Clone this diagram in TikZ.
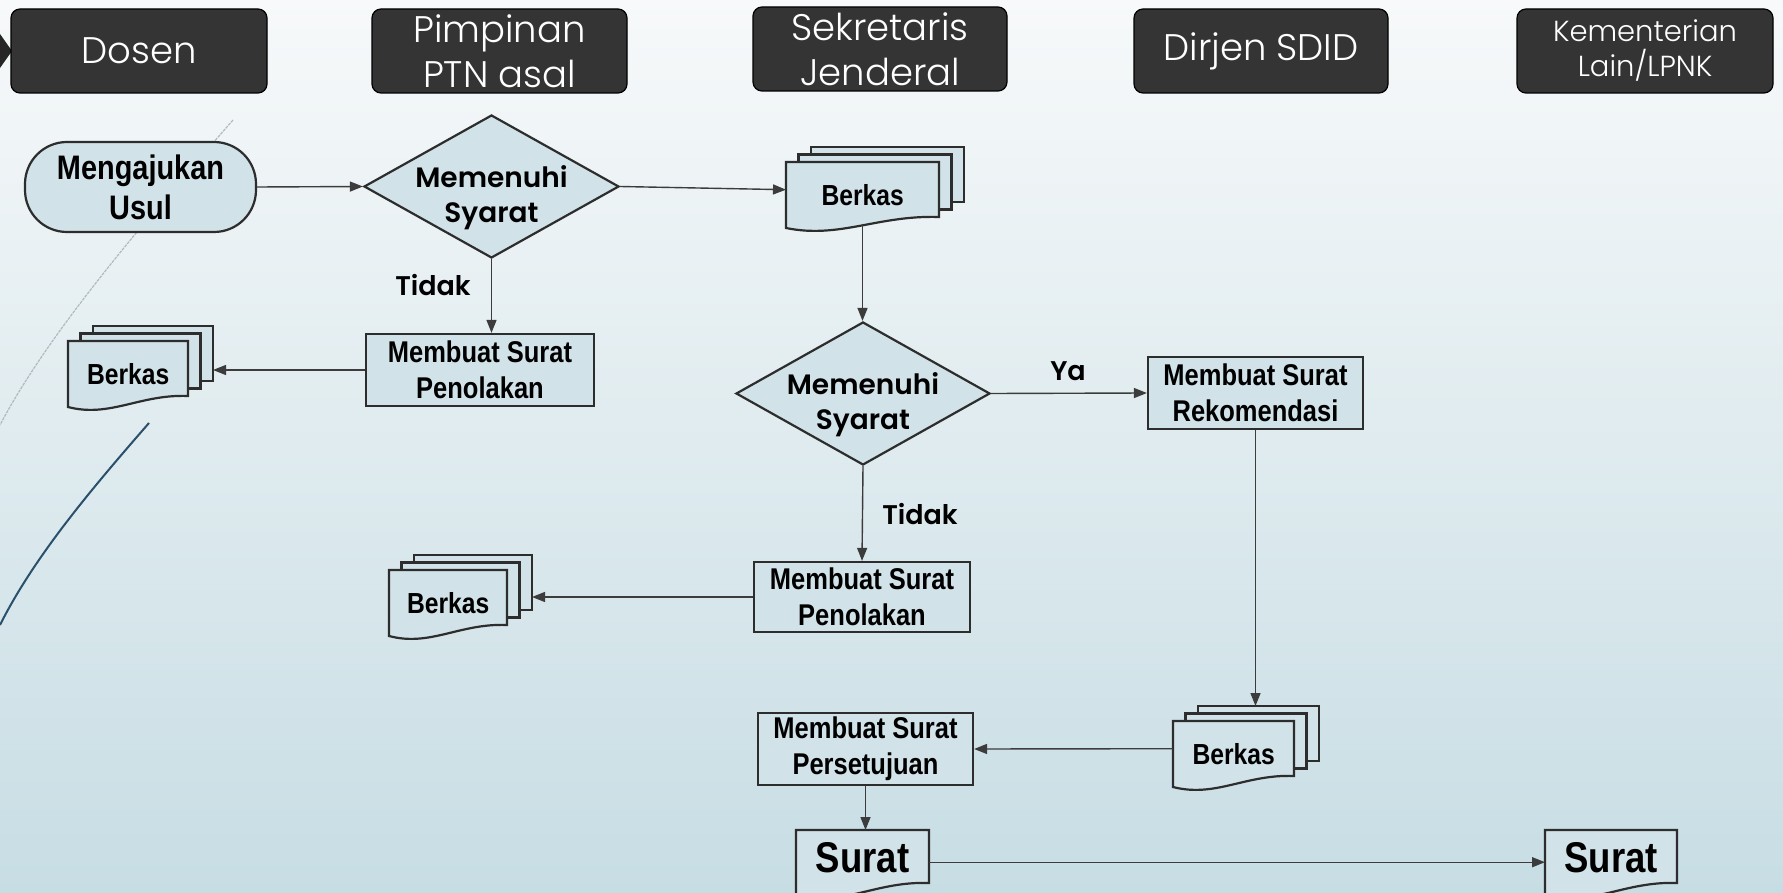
\documentclass[tikz,border=0pt]{standalone}
\usepackage{fontspec}
\setmainfont{Liberation Sans}
\newfontfamily\narrowf[FakeStretch=0.85]{Liberation Sans}
\newfontfamily\gothf{Poppins}
\newfontfamily\gothl{Poppins Light}
\newfontfamily\goths{Poppins SemiBold}
\usetikzlibrary{shapes.geometric,arrows.meta,calc}
\definecolor{bgtop}{RGB}{247,249,250}
\definecolor{bgbot}{RGB}{199,221,228}
\definecolor{hdrfill}{RGB}{52,52,52}
\definecolor{flowfill}{RGB}{209,226,232}
\definecolor{edgecol}{RGB}{45,45,45}
\definecolor{arrcol}{RGB}{60,60,60}
\definecolor{curvecol}{RGB}{42,80,108}
\definecolor{dotcol}{RGB}{175,185,190}
\tikzset{
 hdr/.style={rectangle, rounded corners=9pt, fill=hdrfill, draw=black, line width=1.2pt, inner sep=0pt},
 hdrtext/.style={text=white, font=\gothl\fontsize{37}{45}\selectfont, align=center, inner sep=0pt},
 hdrsmall/.style={text=white, font=\gothl\fontsize{29}{35}\selectfont, align=center, inner sep=0pt},
 flow/.style={fill=flowfill, draw=edgecol, line width=2.2pt},
 proc/.style={flow, rectangle, inner sep=0pt, align=center, font=\narrowf\bfseries\fontsize{30}{36}\selectfont},
 term/.style={proc, rounded corners=42pt, font=\narrowf\bfseries\fontsize{34}{40}\selectfont},
 decis/.style={flow, diamond, inner sep=0pt},
 dlabel/.style={font=\goths\fontsize{28}{35}\selectfont, align=center, inner sep=0pt},
 elabel/.style={font=\goths\fontsize{27}{32}\selectfont, inner sep=0pt},
 conn/.style={draw=arrcol, line width=1.4pt, -{Triangle[length=13pt,width=10pt]}},
 docbox/.style={rectangle, inner sep=0pt, draw=none},
 doctext/.style={font=\narrowf\bfseries\fontsize{29}{34}\selectfont, inner sep=0pt},
}
\newcommand\multidoc[5]{%
 \begin{scope}[shift={(#2,#3)}]
 \path[flow] (25,-15) rectangle ++(#4,55);
 \path[flow] (12.5,-7.5) rectangle ++(#4,55);
 \path[flow] (0,0) -- (#4,0) -- (#4,55) .. controls ({0.6*#4},53) and ({0.35*#4},77) .. (0,66) -- cycle;
 \node[docbox, minimum width=#4pt, minimum height=55pt, anchor=north west,
   label={[doctext, yshift=-5pt]center:#5}] (#1) at (0,0) {};
 \coordinate (#1-bot) at ({#4/2},62);
 \coordinate (#1-r) at ({#4+25},27.5);
 \coordinate (#1-t) at ({25+#4/2},-15);
 \end{scope}}
\newcommand\singledoc[5]{%
 \begin{scope}[shift={(#2,#3)}]
 \path[flow] (0,0) -- (#4,0) -- (#4,53) .. controls ({0.6*#4},51) and ({0.35*#4},77) .. (0,66) -- cycle;
 \node[docbox, minimum width=#4pt, minimum height=54pt, anchor=north west,
   font=\narrowf\bfseries\fontsize{43}{50}\selectfont] (#1) at (0,0) {#5};
 \end{scope}}
\begin{document}
\begin{tikzpicture}[x=1pt,y=-1pt]
\useasboundingbox (0,0) rectangle (1783,893);
\shade[top color=bgtop, bottom color=bgbot] (0,0) rectangle (1783,893);
% decorative lines
\draw[dotcol, line width=1.2pt, dash pattern=on 3pt off 1pt] (233,120) .. controls (150,215) and (50,330) .. (0,425);
\draw[curvecol, line width=2pt] (149,423) .. controls (95,485) and (35,555) .. (0,625);
\fill[black!85] (0,34) -- (12,51) -- (0,68) -- cycle;
% headers
\node[hdr, minimum width=256pt, minimum height=84pt, label={[hdrtext]center:Dosen}] (hD) at (139,51) {};
\node[hdr, minimum width=255pt, minimum height=84pt, label={[hdrtext]center:Pimpinan\\PTN asal}] (hP) at (499.5,51) {};
\node[hdr, minimum width=254pt, minimum height=84pt, label={[hdrtext]center:Sekretaris\\Jenderal}] (hS) at (880,49) {};
\node[hdr, minimum width=254pt, minimum height=84pt, label={[hdrtext]center:Dirjen SDID}] (hR) at (1261,51) {};
\node[hdr, minimum width=256pt, minimum height=84pt, label={[hdrsmall]center:Kementerian\\Lain/LPNK}] (hK) at (1645,51) {};
% flow nodes
\node[term, minimum width=231pt, minimum height=90pt] (m1) at (140.5,187) {Mengajukan\\Usul};
\node[decis, minimum width=255pt, minimum height=143pt] (d1) at (491.5,186.5) {};
\node[dlabel] (d1t) at (491.5,198) {Memenuhi\\Syarat};
\multidoc{b1}{786}{162}{153}{Berkas}
\node[elabel] (t1) at (433,285) {Tidak};
\node[proc, minimum width=228pt, minimum height=72pt] (p1) at (480,370) {Membuat Surat\\Penolakan};
\multidoc{b2}{68}{341}{120}{Berkas}
\node[decis, minimum width=254pt, minimum height=143pt] (d2) at (863,393.5) {};
\node[dlabel] (d2t) at (863,405) {Memenuhi\\Syarat};
\node[elabel] (ya) at (1068,371) {Ya};
\node[proc, minimum width=215pt, minimum height=72pt] (r1) at (1255.5,393) {Membuat Surat\\Rekomendasi};
\node[elabel] (t2) at (920,514) {Tidak};
\node[proc, minimum width=216pt, minimum height=70pt] (p2) at (862,597) {Membuat Surat\\Penolakan};
\multidoc{b3}{389}{570}{118}{Berkas}
\multidoc{b4}{1173}{721}{121}{Berkas}
\node[proc, minimum width=215pt, minimum height=72pt] (ps) at (865.5,749) {Membuat Surat\\Persetujuan};
\singledoc{s1}{796}{830}{133}{Surat}
\singledoc{s2}{1545}{830}{132}{Surat}
% connectors
\draw[conn] (m1.east) -- (d1.west);
\draw[conn] (d1.east) -- (b1.west);
\draw[conn] (d1.south) -- (d1.south |- p1.north);
\draw[conn] (p1.west) -- (p1.west -| b2-r);
\draw[conn] (b1-bot) -- (b1-bot |- d2.north);
\draw[conn] (d2.east) -- (r1.west);
\draw[conn] (d2.south) -- (p2.north);
\draw[conn] (p2.west) -- (p2.west -| b3-r);
\draw[conn] (r1.south) -- (r1.south |- b4-t);
\draw[conn] (b4.west) -- (ps.east);
\draw[conn] (ps.south) -- (ps.south |- s1.north);
\draw[conn] ([yshift=-5pt]s1.east) -- ([yshift=-5pt]s2.west);
\end{tikzpicture}
\end{document}
